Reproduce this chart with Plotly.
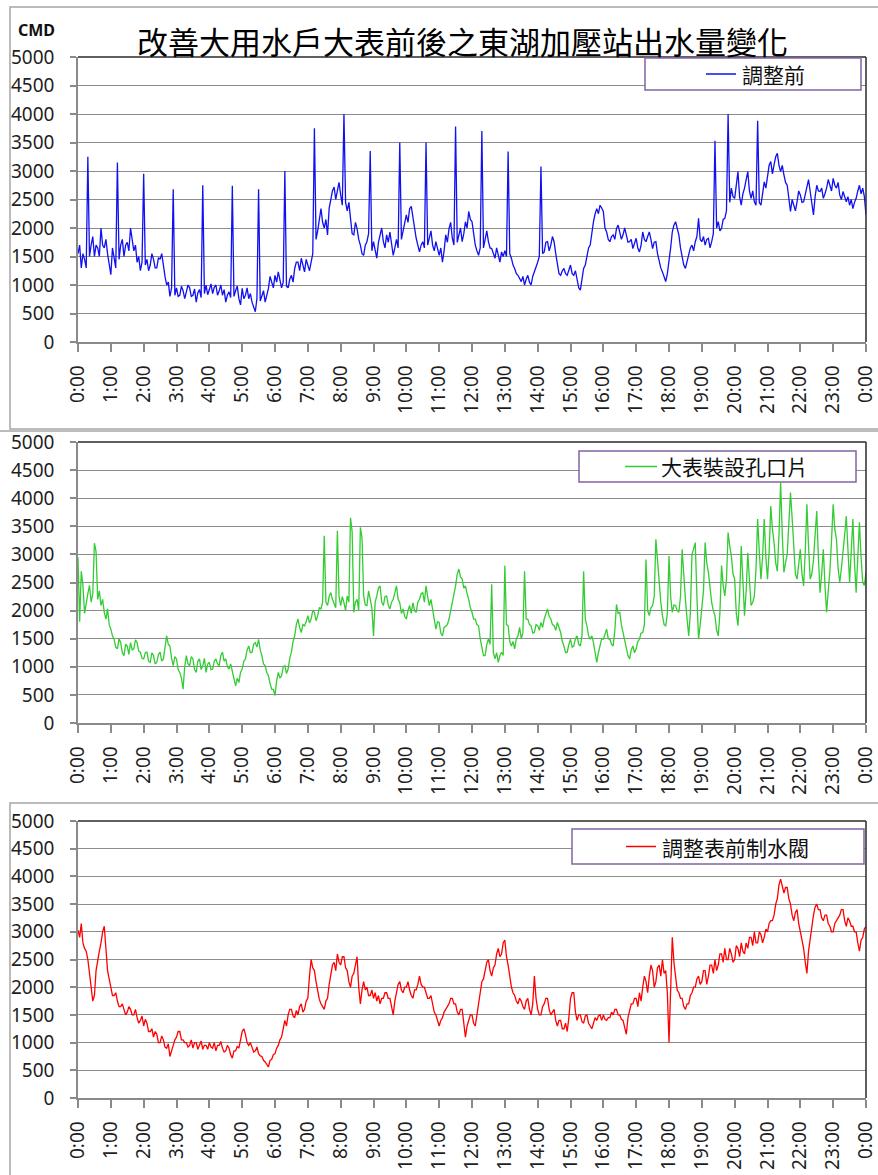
import plotly.graph_objects as go

W, H = 878, 1175

# sampling clock: one reading every 3 minutes across the day
minutes = list(range(0, 1441, 3))
hours = [m / 60 for m in minutes]

# 東湖加壓站出水量 (CMD), one row per hour
before_adjust = [
    1550, 1700, 1300, 1550, 1450, 1300, 3250, 1500, 1700, 1850, 1500, 1700, 1650, 1500, 2000, 1700, 1650, 1800, 1550, 1350,
    1180, 1650, 1450, 1300, 3150, 1450, 1700, 1800, 1500, 1700, 1750, 1600, 2000, 1750, 1600, 1700, 1400, 1500, 1250, 1400,
    2950, 1350, 1450, 1250, 1350, 1550, 1450, 1300, 1300, 1480, 1450, 1550, 1300, 1150, 1000, 1050, 800, 950, 2680, 820,
    950, 800, 820, 980, 900, 760, 880, 1000, 950, 800, 820, 930, 700, 860, 920, 780, 2750, 850, 1000, 830,
    920, 1020, 850, 960, 1000, 820, 900, 1000, 820, 920, 700, 820, 880, 780, 2740, 800, 900, 980, 760, 650,
    940, 760, 820, 950, 760, 850, 700, 600, 530, 760, 2680, 720, 820, 900, 700, 800, 940, 1150, 1060, 950,
    1170, 1050, 1230, 1100, 950, 1050, 3000, 980, 950, 1100, 1170, 1050, 1290, 1400, 1400, 1250, 1470, 1350, 1230, 1450,
    1350, 1250, 1400, 1550, 3750, 1800, 1950, 2200, 2340, 2100, 2000, 2150, 1880, 2350, 2500, 2650, 2720, 2500, 2650, 2800,
    2580, 2400, 4000, 2450, 2300, 2450, 2170, 1900, 1880, 2100, 1990, 1800, 1700, 1550, 1520, 1700, 1760, 1900, 3350, 1600,
    1760, 1600, 1470, 1750, 1880, 2000, 1760, 1650, 1880, 1750, 1930, 1700, 1520, 1650, 1800, 1650, 3500, 1800, 1930, 2100,
    2230, 2100, 2340, 2380, 2170, 2000, 1820, 1700, 1580, 1700, 1760, 1650, 3500, 1700, 1820, 1950, 1700, 1600, 1760, 1650,
    1520, 1650, 1400, 1600, 1880, 1750, 1990, 2100, 1820, 1700, 3780, 1750, 1880, 2000, 1760, 1900, 2110, 2000, 2290, 2150,
    2110, 1900, 1700, 1600, 1520, 1650, 3700, 1650, 1820, 1950, 1760, 1650, 1640, 1550, 1470, 1650, 1520, 1400, 1580, 1500,
    1600, 1500, 3340, 1550, 1470, 1350, 1290, 1200, 1170, 1100, 1060, 1150, 1000, 1100, 1170, 1050, 1000, 1150, 1230, 1300,
    1400, 1500, 3080, 1550, 1580, 1750, 1760, 1600, 1700, 1850, 1760, 1550, 1400, 1200, 1170, 1250, 1290, 1200, 1170, 1250,
    1350, 1200, 1170, 1250, 1060, 950, 910, 1150, 1290, 1350, 1520, 1650, 1700, 1950, 2110, 2250, 2340, 2250, 2400, 2350,
    2290, 2000, 1930, 1800, 1760, 1850, 1880, 1800, 1990, 2050, 1930, 1800, 1880, 2000, 1880, 1750, 1760, 1800, 1640, 1750,
    1820, 1650, 1580, 1700, 1930, 1800, 1760, 1850, 1930, 1800, 1640, 1750, 1760, 1550, 1400, 1300, 1230, 1150, 1060, 1200,
    1400, 1650, 1930, 2050, 2110, 2000, 1880, 1650, 1520, 1350, 1290, 1400, 1520, 1650, 1700, 1600, 1760, 1850, 2170, 1800,
    1760, 1850, 1700, 1800, 1820, 1650, 1760, 1900, 3530, 2000, 2110, 1950, 1990, 2150, 2170, 2300, 4000, 2450, 2700, 2550,
    2520, 2800, 2990, 2550, 2400, 2600, 2700, 2850, 2990, 2650, 2520, 2650, 2460, 2400, 3880, 2450, 2400, 2600, 2810, 2700,
    2930, 3100, 3165, 2950, 3110, 3250, 3310, 3100, 2990, 3100, 2930, 2800, 2750, 2550, 2290, 2500, 2400, 2300, 2460, 2650,
    2580, 2450, 2460, 2600, 2750, 2850, 2640, 2400, 2230, 2550, 2750, 2650, 2640, 2700, 2520, 2600, 2700, 2850, 2750, 2650,
    2870, 2750, 2700, 2800, 2580, 2500, 2640, 2550, 2460, 2550, 2400, 2500, 2340, 2450, 2520, 2650, 2750, 2600, 2700, 2550,
    2230,
]

orifice_plate = [
    2950, 1800, 2700, 2450, 1950, 2150, 2300, 2450, 2150, 2300, 3200, 3050, 2200, 2350, 2090, 2200, 1970, 1850, 2030, 1750,
    1670, 1550, 1490, 1350, 1320, 1500, 1430, 1250, 1200, 1400, 1370, 1220, 1430, 1300, 1320, 1480, 1430, 1280, 1260, 1150,
    1140, 1250, 1260, 1100, 1080, 1250, 1200, 1050, 1080, 1220, 1260, 1100, 1140, 1350, 1550, 1400, 1370, 1150, 1020, 1180,
    1140, 950, 900, 800, 600, 1000, 1200, 1050, 1020, 1180, 1140, 950, 900, 1100, 1140, 950, 1020, 1150, 900, 1050,
    1080, 950, 960, 1100, 1140, 1050, 1020, 1200, 1260, 1100, 1140, 1000, 960, 1050, 900, 750, 660, 800, 720, 900,
    960, 1100, 1140, 1300, 1370, 1250, 1260, 1400, 1430, 1350, 1490, 1300, 1200, 1050, 1020, 900, 840, 700, 600, 600,
    490, 750, 900, 800, 840, 1000, 1020, 880, 960, 1150, 1260, 1450, 1550, 1750, 1850, 1700, 1610, 1750, 1730, 1800,
    1910, 1780, 1850, 2000, 1970, 1820, 1910, 2050, 2030, 2150, 3330, 2150, 2090, 2250, 2320, 2200, 2140, 2050, 3420, 2250,
    2090, 2250, 2140, 2000, 2260, 2150, 3650, 3400, 1970, 2150, 2200, 2000, 3480, 3300, 2260, 2100, 2090, 2350, 2200, 2050,
    1550, 2150, 2260, 2400, 2440, 2150, 2090, 2250, 2260, 2100, 2030, 2150, 2200, 2350, 2440, 2200, 2140, 1950, 2030, 1900,
    1850, 2000, 2090, 1950, 2140, 2000, 1970, 2150, 2200, 2300, 2320, 2150, 2440, 2250, 2090, 2200, 2030, 1800, 1670, 1800,
    1790, 1600, 1550, 1700, 1730, 1750, 1850, 2000, 2140, 2250, 2440, 2650, 2740, 2600, 2560, 2400, 2440, 2300, 2200, 2050,
    1970, 1850, 1850, 1750, 1730, 1500, 1370, 1200, 1200, 1400, 1490, 1400, 2470, 1250, 1140, 1250, 1080, 1200, 1260, 1200,
    2800, 1750, 1730, 1450, 1370, 1450, 1320, 1500, 1550, 1700, 1500, 1600, 2700, 1850, 1850, 1750, 1730, 1600, 1610, 1750,
    1730, 1650, 1790, 1700, 1850, 1950, 2030, 1900, 1850, 1750, 1730, 1650, 1790, 1700, 1610, 1450, 1370, 1250, 1260, 1400,
    1490, 1350, 1370, 1500, 1550, 1400, 1370, 1550, 2700, 1850, 1730, 1550, 1490, 1550, 1430, 1250, 1080, 1250, 1370, 1500,
    1490, 1600, 1670, 1500, 1490, 1400, 1370, 1650, 2110, 1950, 1970, 1750, 1610, 1450, 1370, 1200, 1140, 1300, 1370, 1250,
    1320, 1450, 1490, 1600, 1610, 1750, 2910, 2000, 1910, 2050, 2090, 2250, 3270, 2850, 2560, 2150, 1910, 1750, 1730, 1950,
    2970, 2250, 1970, 2100, 2090, 2000, 1970, 2250, 3090, 2550, 2200, 1850, 1550, 1950, 3000, 3100, 3210, 2250, 1490, 1750,
    2030, 2350, 3210, 2850, 2680, 2350, 2140, 2000, 1910, 1650, 1550, 1950, 2800, 2450, 2260, 2550, 3390, 3150, 2970, 2650,
    2560, 1950, 1730, 2250, 3150, 2550, 1910, 2350, 3030, 2550, 2090, 2150, 2260, 2750, 3630, 3050, 2560, 2950, 3630, 2950,
    2560, 3050, 3860, 3450, 3210, 2850, 2700, 3350, 4280, 3350, 2680, 2850, 3000, 3550, 4100, 3650, 3150, 2650, 2560, 2850,
    3090, 2650, 2440, 3050, 3890, 3150, 2560, 2650, 2900, 3350, 3770, 2950, 2320, 2650, 3090, 2450, 1970, 2350, 2700, 3250,
    3890, 3450, 3270, 2750, 2500, 2750, 3000, 3350, 3680, 2950, 2500, 3050, 3630, 2850, 2320, 2950, 3570, 2950, 2500, 2450,
    2680,
]

valve_adjust = [
    3030, 2900, 3150, 2800, 2700, 2650, 2500, 2200, 2000, 1750, 1850, 2300, 2500, 2650, 2800, 3000, 3100, 2650, 2300, 2150,
    2000, 1850, 1850, 1900, 1750, 1650, 1650, 1700, 1600, 1500, 1550, 1650, 1600, 1500, 1500, 1600, 1450, 1350, 1400, 1480,
    1300, 1420, 1350, 1200, 1200, 1250, 1100, 1200, 1150, 1000, 1000, 1120, 1050, 920, 900, 980, 750, 880, 950, 1050,
    1100, 1200, 1200, 1050, 1050, 1000, 1000, 920, 950, 1050, 900, 1000, 1000, 880, 950, 1030, 880, 950, 950, 880,
    1000, 920, 900, 1000, 850, 950, 950, 1020, 900, 830, 850, 950, 900, 780, 720, 850, 850, 930, 900, 1050,
    1200, 1250, 1150, 1000, 950, 1000, 900, 830, 850, 920, 800, 760, 750, 680, 650, 600, 560, 680, 700, 780,
    800, 900, 950, 1050, 1100, 1250, 1400, 1300, 1500, 1600, 1600, 1480, 1450, 1580, 1500, 1650, 1700, 1550, 1600, 1750,
    1800, 2200, 2500, 2350, 2300, 2100, 1900, 1780, 1700, 1650, 1600, 1750, 1800, 2050, 2200, 2400, 2450, 2300, 2600, 2450,
    2400, 2550, 2550, 2350, 2300, 2100, 2000, 2200, 2250, 2400, 2550, 2000, 1700, 1950, 2100, 1950, 2000, 1850, 1850, 1950,
    1800, 1900, 1750, 1850, 1700, 1800, 1800, 1900, 1900, 1800, 1800, 1650, 1500, 1750, 1900, 2050, 2100, 1950, 1900, 2000,
    2000, 2100, 1950, 1850, 1800, 1950, 1950, 2050, 2200, 2050, 2000, 2000, 1900, 1800, 1800, 1850, 1700, 1550, 1500, 1400,
    1300, 1400, 1450, 1550, 1600, 1650, 1700, 1800, 1800, 1700, 1700, 1550, 1500, 1600, 1600, 1350, 1100, 1300, 1400, 1500,
    1500, 1350, 1300, 1500, 1650, 1900, 2100, 2150, 2300, 2450, 2500, 2300, 2200, 2350, 2400, 2600, 2700, 2550, 2600, 2800,
    2850, 2550, 2400, 2150, 2000, 1900, 1850, 1750, 1700, 1800, 1750, 1650, 1600, 1750, 1800, 1600, 1500, 1700, 2200, 1800,
    1600, 1500, 1500, 1650, 1700, 1800, 1800, 1600, 1500, 1550, 1600, 1400, 1300, 1400, 1400, 1250, 1250, 1350, 1200, 1450,
    1800, 1900, 1900, 1550, 1400, 1500, 1500, 1380, 1350, 1480, 1500, 1350, 1300, 1250, 1350, 1450, 1400, 1480, 1500, 1400,
    1500, 1420, 1400, 1450, 1450, 1550, 1500, 1600, 1600, 1500, 1500, 1420, 1400, 1250, 1150, 1450, 1600, 1700, 1700, 1800,
    1800, 1650, 1900, 1750, 2000, 2200, 2100, 1900, 2200, 2400, 2300, 2000, 2100, 2350, 2400, 2200, 2500, 2250, 2300, 1900,
    1000, 1850, 2900, 2450, 2200, 1950, 1900, 1800, 1800, 1650, 1600, 1700, 1700, 1850, 1900, 2000, 2000, 2150, 2200, 2050,
    2100, 2300, 2300, 2050, 2200, 2400, 2400, 2250, 2500, 2300, 2400, 2600, 2600, 2450, 2700, 2500, 2500, 2700, 2600, 2450,
    2500, 2750, 2700, 2550, 2800, 2650, 2600, 2800, 2700, 2900, 2900, 2750, 3000, 2800, 2800, 3000, 2950, 2800, 2900, 3050,
    3000, 3150, 3200, 3200, 3300, 3500, 3600, 3850, 3950, 3800, 3700, 3800, 3800, 3600, 3500, 3300, 3200, 3350, 3400, 3150,
    3000, 2800, 2700, 2450, 2250, 2650, 2900, 3150, 3300, 3450, 3500, 3400, 3400, 3250, 3200, 3300, 3300, 3150, 3100, 3000,
    3000, 3150, 3200, 3250, 3300, 3400, 3400, 3200, 3100, 3250, 3200, 3100, 3100, 3000, 3000, 2800, 2650, 2850, 2900, 3050,
    3100,
]

series_names = ["調整前", "大表裝設孔口片", "調整表前制水閥"]
series_colors = ["#1010f0", "#33cc33", "#ff0000"]
series_values = [before_adjust, orifice_plate, valve_adjust]

hour_ticks = list(range(25))
hour_labels = ["0:00", "1:00", "2:00", "3:00", "4:00", "5:00", "6:00", "7:00",
               "8:00", "9:00", "10:00", "11:00", "12:00", "13:00", "14:00",
               "15:00", "16:00", "17:00", "18:00", "19:00", "20:00", "21:00",
               "22:00", "23:00", "0:00"]
flow_ticks = list(range(0, 5001, 500))

TITLE = "改善大用水戶大表前後之東湖加壓站出水量變化"
CJK = "Noto Sans CJK TC"
NUM = "Noto Sans"


def px(x):
    return x / W


def py(y):
    return 1 - y / H


# pixel layout of each panel: plot area and legend box
panels = [
    dict(left=78, right=866, top=57, bottom=342,
         leg=(645, 58, 861, 90), leg_line=(706, 736), leg_text=740),
    dict(left=78, right=866, top=442, bottom=723,
         leg=(579, 451, 856, 482), leg_line=(625, 657), leg_text=659),
    dict(left=78, right=866, top=821, bottom=1098,
         leg=(572, 829, 864, 864), leg_line=(626, 656), leg_text=660),
]

fig = go.Figure()
shapes = []
annotations = []
layout_axes = {}

AXIS_GRAY = "#8a8a8a"
GRID_GRAY = "#8c8c8c"
FRAME_DARK = "#2a2a2a"
LEG_PURPLE = "#8064a2"

for i, (p, name, color, vals) in enumerate(zip(panels, series_names, series_colors, series_values)):
    n = "" if i == 0 else str(i + 1)
    xa, ya = "x" + n, "y" + n
    fig.add_trace(go.Scatter(
        x=hours, y=vals, mode="lines", name=name,
        line=dict(color=color, width=1.3),
        xaxis=xa, yaxis=ya, showlegend=False,
    ))
    layout_axes["xaxis" + n] = dict(
        domain=[px(p["left"]), px(p["right"])], anchor=ya, automargin=False,
        range=[0, 24], tickmode="array", tickvals=hour_ticks, ticktext=hour_labels,
        tickangle=-90, ticks="outside", ticklen=8, tickwidth=1.5, tickcolor=AXIS_GRAY,
        showline=True, linecolor=AXIS_GRAY, linewidth=1.5,
        showgrid=False, zeroline=False, ticklabelstandoff=6, ticklabeloverflow="allow",
        tickfont=dict(family=NUM, size=19, color="#1e1e1e"), fixedrange=True,
    )
    layout_axes["yaxis" + n] = dict(
        domain=[py(p["bottom"]), py(p["top"])], anchor=xa, automargin=False,
        range=[0, 5000], tickmode="array", tickvals=flow_ticks,
        ticks="outside", ticklen=6, tickwidth=1.5, tickcolor=AXIS_GRAY,
        showline=True, linecolor=AXIS_GRAY, linewidth=1.5,
        showgrid=True, gridcolor=GRID_GRAY, gridwidth=1.2, zeroline=False,
        ticklabelstandoff=12,
        tickfont=dict(family=NUM, size=19, color="#1e1e1e"), fixedrange=True,
    )
    # dark top and right border of the plot area
    dx, dy = xa + " domain", ya + " domain"
    shapes.append(dict(type="line", xref=dx, yref=dy, x0=0, x1=1, y0=1, y1=1,
                       line=dict(color=FRAME_DARK, width=1.5)))
    shapes.append(dict(type="line", xref=dx, yref=dy, x0=1, x1=1, y0=0, y1=1,
                       line=dict(color=FRAME_DARK, width=1.5)))
    # legend box
    lx0, ly0, lx1, ly1 = p["leg"]
    shapes.append(dict(type="rect", xref="paper", yref="paper",
                       x0=px(lx0), x1=px(lx1), y0=py(ly1), y1=py(ly0),
                       fillcolor="white", line=dict(color=LEG_PURPLE, width=1.5)))
    ymid = (ly0 + ly1) / 2
    shapes.append(dict(type="line", xref="paper", yref="paper",
                       x0=px(p["leg_line"][0]), x1=px(p["leg_line"][1]),
                       y0=py(ymid), y1=py(ymid), line=dict(color=color, width=1.5)))
    annotations.append(dict(xref="paper", yref="paper", x=px(p["leg_text"]), y=py(ymid),
                            text=name, showarrow=False, xanchor="left", yanchor="middle",
                            font=dict(family=CJK, size=21, color="#111111")))

# outer chart frames
shapes.append(dict(type="rect", xref="paper", yref="paper", x0=px(10), x1=px(890),
                   y0=py(429), y1=py(7), line=dict(color="#a6a6a6", width=1.5),
                   layer="below"))
shapes.append(dict(type="line", xref="paper", yref="paper", x0=0, x1=1,
                   y0=py(431), y1=py(431), line=dict(color="#a6a6a6", width=1.5)))
shapes.append(dict(type="rect", xref="paper", yref="paper", x0=px(10), x1=px(890),
                   y0=py(1190), y1=py(803), line=dict(color="#a6a6a6", width=1.5),
                   layer="below"))

annotations.append(dict(xref="paper", yref="paper", x=px(462), y=py(40), text=TITLE,
                        showarrow=False, xanchor="center", yanchor="middle",
                        font=dict(family=CJK, size=31, color="#000000")))
annotations.append(dict(xref="paper", yref="paper", x=px(36), y=py(30), text="<b>CMD</b>",
                        showarrow=False, xanchor="center", yanchor="middle",
                        font=dict(family=NUM, size=16, color="#111111")))

fig.update_layout(
    width=W, height=H, margin=dict(l=0, r=0, t=0, b=0),
    paper_bgcolor="white", plot_bgcolor="white",
    shapes=shapes, annotations=annotations, showlegend=False,
    **layout_axes,
)

fig.write_html("out.html")
